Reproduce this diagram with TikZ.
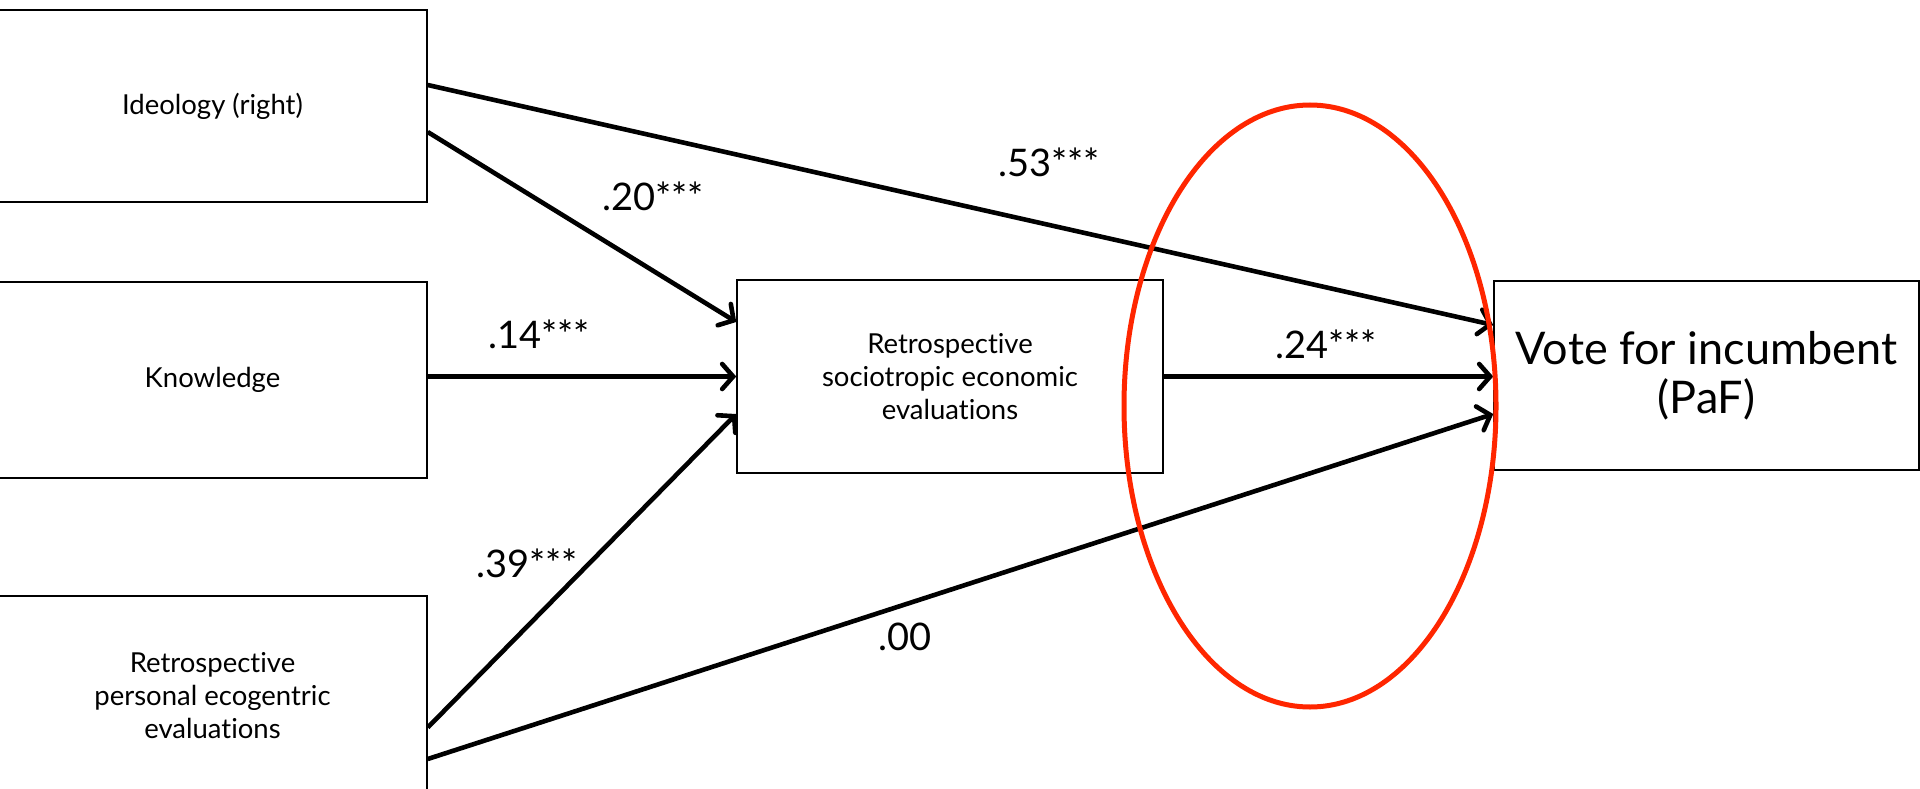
\documentclass[tikz,border=0pt]{standalone}
\usepackage{fontspec}
\setmainfont{Lato}[Ligatures=NoCommon]
\usetikzlibrary{arrows.meta}
\definecolor{ringred}{RGB}{255,38,0}

\begin{document}
\begin{tikzpicture}[x=1pt,y=-1pt,
    var/.style={draw, line width=1.5pt, align=center, inner sep=0pt,
      font=\fontsize{27.5}{33}\selectfont},
    path/.style={line width=4.6pt, -{Straight Barb[length=11pt,width=25pt,line cap=round]}},
    coef/.style={font=\fontsize{38}{44}\selectfont, inner sep=0pt}]
  \useasboundingbox (0,0) rectangle (1920,789);
  % boxes
  \node[var, minimum width=429pt, minimum height=192pt] (ideo) at (212.5,106) {Ideology (right)};
  \node[var, minimum width=429pt, minimum height=196pt] (know) at (212.5,380) {Knowledge};
  \node[var, minimum width=429pt, minimum height=199pt] (pers) at (212.5,695.5) {Retrospective\\personal ecogentric\\evaluations};
  \node[var, minimum width=426pt, minimum height=193pt] (retro) at (950,376.5) {Retrospective\\sociotropic economic\\evaluations};
  \node[var, minimum width=425pt, minimum height=189pt, font=\fontsize{45}{49}\selectfont] (vote) at (1706.5,375.5) {Vote for incumbent\\(PaF)};
  % paths
  \draw[path] ([yshift=21pt]ideo.east) -- ([yshift=50.5pt]vote.west);
  \draw[path] ([yshift=-26pt]ideo.east) -- ([yshift=54.5pt]retro.west);
  \draw[path] (know.east |- retro.west) -- (retro.west);
  \draw[path] ([yshift=-32pt]pers.east) -- ([yshift=-37.5pt]retro.west);
  \draw[path] ([yshift=-63.5pt]pers.east) -- ([yshift=-38.5pt]vote.west);
  \draw[path] (retro.east) -- (retro.east -| vote.west);
  % coefficients
  \node[coef] (c53) at (1049,162) {.53***};
  \node[coef] (c20) at (653,196) {.20***};
  \node[coef] (c14) at (539,334) {.14***};
  \node[coef] (c24) at (1326,344) {.24***};
  \node[coef] (c39) at (527,563) {.39***};
  \node[coef] (c00) at (905,637) {.00};
  % highlight
  \draw[ringred, line width=5pt] (1310,406) ellipse [x radius=186pt, y radius=301pt];
\end{tikzpicture}
\end{document}
